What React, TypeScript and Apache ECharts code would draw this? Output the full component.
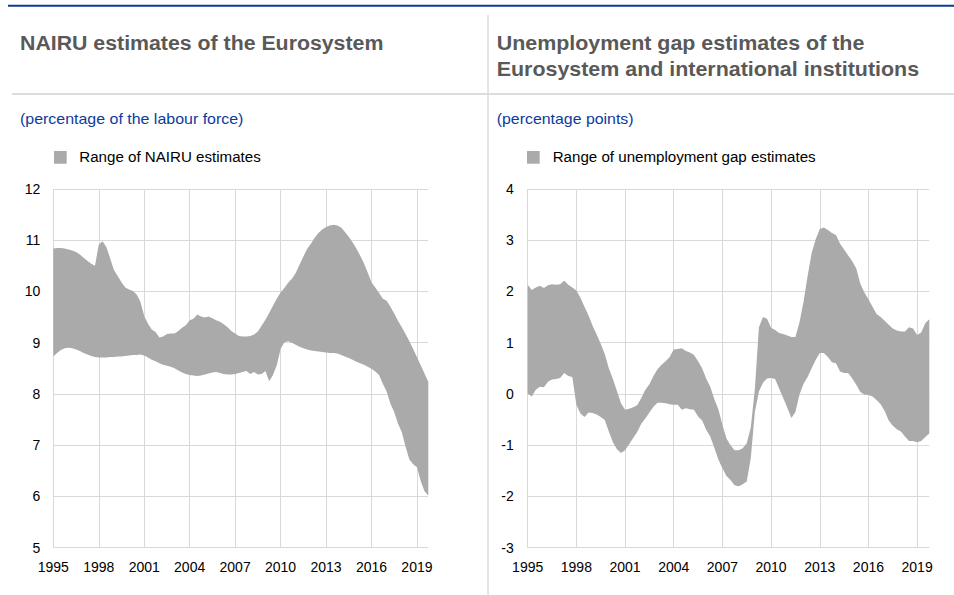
import React, { useEffect, useRef } from "react";
import * as echarts from "echarts";

const years: number[] = [];
for (let y = 1995; y <= 2019; y++) years.push(y);
const quarters: string[] = years.flatMap((y) => [`${y}Q1`, `${y}Q2`, `${y}Q3`, `${y}Q4`]);

// NAIRU range (percentage of the labour force), quarterly 1995Q1-2019Q4
const nairuHigh = [
  10.84, 10.85, 10.85, 10.84,
  10.82, 10.80, 10.77, 10.72,
  10.66, 10.60, 10.54, 10.50,
  10.91, 10.98, 10.87, 10.65,
  10.42, 10.30, 10.18, 10.08,
  10.04, 10.01, 9.94, 9.80,
  9.52, 9.37, 9.26, 9.21,
  9.10, 9.12, 9.17, 9.18,
  9.18, 9.23, 9.29, 9.34,
  9.44, 9.47, 9.55, 9.51,
  9.49, 9.51, 9.48, 9.44,
  9.41, 9.36, 9.30, 9.23,
  9.18, 9.13, 9.12, 9.12,
  9.13, 9.16, 9.22, 9.33,
  9.45, 9.58, 9.72, 9.86,
  9.98, 10.07, 10.17, 10.25,
  10.36, 10.52, 10.68, 10.83,
  10.93, 11.05, 11.14, 11.21,
  11.26, 11.29, 11.30, 11.29,
  11.25, 11.16, 11.07, 10.96,
  10.84, 10.70, 10.55, 10.37,
  10.18, 10.08, 9.97, 9.86,
  9.82, 9.70, 9.57, 9.43,
  9.30, 9.17, 9.03, 8.88,
  8.72, 8.56, 8.40, 8.24,
];
const nairuLow = [
  8.73, 8.80, 8.86, 8.89,
  8.90, 8.89, 8.87, 8.84,
  8.80, 8.77, 8.74, 8.72,
  8.71, 8.71, 8.71, 8.72,
  8.72, 8.73, 8.73, 8.74,
  8.75, 8.76, 8.76, 8.77,
  8.75, 8.71, 8.67, 8.64,
  8.60, 8.57, 8.55, 8.53,
  8.50, 8.46, 8.42, 8.39,
  8.37, 8.36, 8.35, 8.36,
  8.38, 8.40, 8.42, 8.43,
  8.41, 8.39, 8.38, 8.38,
  8.39, 8.41, 8.43, 8.45,
  8.39, 8.43, 8.38, 8.39,
  8.45, 8.25, 8.37, 8.56,
  8.88, 9.01, 9.03, 9.00,
  8.96, 8.92, 8.89, 8.87,
  8.85, 8.84, 8.83, 8.82,
  8.81, 8.80, 8.80, 8.79,
  8.76, 8.73, 8.70, 8.67,
  8.63, 8.60, 8.57, 8.53,
  8.49, 8.44, 8.37, 8.20,
  8.05, 7.81, 7.65, 7.42,
  7.26, 6.97, 6.72, 6.63,
  6.57, 6.30, 6.10, 6.02,
];

// Unemployment gap range (percentage points), quarterly 1995Q1-2019Q4
const gapHigh = [
  2.13, 2.03, 2.08, 2.11,
  2.07, 2.12, 2.14, 2.13,
  2.14, 2.21, 2.13, 2.08,
  2.02, 1.88, 1.70, 1.53,
  1.33, 1.16, 0.98, 0.78,
  0.50, 0.29, 0.06, -0.18,
  -0.31, -0.29, -0.26, -0.22,
  -0.08, 0.08, 0.19, 0.35,
  0.48, 0.57, 0.64, 0.72,
  0.87, 0.88, 0.89, 0.84,
  0.81, 0.76, 0.64, 0.50,
  0.30, 0.14, -0.10, -0.30,
  -0.60, -0.87, -1.00, -1.10,
  -1.10, -1.06, -0.96, -0.65,
  0.10, 1.30, 1.50, 1.47,
  1.29, 1.25, 1.19, 1.17,
  1.14, 1.11, 1.11, 1.40,
  1.80, 2.30, 2.75, 3.02,
  3.22, 3.25, 3.20, 3.14,
  3.10, 2.93, 2.82, 2.70,
  2.59, 2.45, 2.15, 1.98,
  1.85, 1.70, 1.56, 1.50,
  1.43, 1.35, 1.28, 1.24,
  1.22, 1.22, 1.30, 1.28,
  1.15, 1.20, 1.38, 1.46,
];
const gapLow = [
  0.01, -0.05, 0.08, 0.14,
  0.13, 0.24, 0.28, 0.29,
  0.31, 0.41, 0.35, 0.33,
  -0.21, -0.38, -0.45, -0.36,
  -0.37, -0.40, -0.45, -0.51,
  -0.73, -0.94, -1.08, -1.15,
  -1.10, -0.98, -0.86, -0.74,
  -0.58, -0.48, -0.36, -0.25,
  -0.17, -0.17, -0.18, -0.20,
  -0.21, -0.21, -0.31, -0.28,
  -0.30, -0.31, -0.44, -0.52,
  -0.70, -0.83, -1.05, -1.28,
  -1.45, -1.60, -1.68, -1.78,
  -1.80, -1.76, -1.71, -1.25,
  -0.35, 0.05, 0.22, 0.30,
  0.31, 0.29, 0.10, -0.08,
  -0.27, -0.47, -0.35, -0.01,
  0.20, 0.33, 0.50, 0.67,
  0.80, 0.80, 0.72, 0.62,
  0.60, 0.44, 0.41, 0.41,
  0.30, 0.18, 0.04, -0.01,
  -0.02, -0.05, -0.12, -0.20,
  -0.33, -0.52, -0.62, -0.69,
  -0.73, -0.83, -0.92, -0.92,
  -0.94, -0.92, -0.84, -0.77,
];

const leftTitle = "NAIRU estimates of the Eurosystem";
const rightTitle1 = "Unemployment gap estimates of the";
const rightTitle2 = "Eurosystem and international institutions";
const leftUnit = "(percentage of the labour force)";
const rightUnit = "(percentage points)";
const leftLegend = "Range of NAIRU estimates";
const rightLegend = "Range of unemployment gap estimates";

const FONT = "'Liberation Sans', Arial, Helvetica, sans-serif";
const GRID_COLOR = "#d9d9d9";
const FILL = "#aaaaaa";

export default function App() {
  const ref = useRef<HTMLDivElement>(null);
  useEffect(() => {
    document.body.style.margin = "0";
    if (!ref.current) return;
    const chart = echarts.init(ref.current, undefined, { renderer: "svg" });

    const xAxisBase = (gridIndex: number) => ({
      type: "category" as const,
      gridIndex,
      data: quarters,
      boundaryGap: false,
      axisLine: { show: false },
      axisTick: { show: false },
      axisLabel: {
        interval: 11,
        margin: 12,
        color: "#000",
        fontSize: 14,
        fontFamily: FONT,
        formatter: (v: string) => v.slice(0, 4),
      },
      splitLine: { show: true, interval: 11, lineStyle: { color: GRID_COLOR, width: 1 } },
    });
    const yAxisBase = (gridIndex: number, min: number, max: number, margin: number) => ({
      type: "value" as const,
      gridIndex,
      min,
      max,
      interval: 1,
      axisLine: { show: false },
      axisTick: { show: false },
      axisLabel: { margin, color: "#000", fontSize: 14, fontFamily: FONT },
      splitLine: { show: true, lineStyle: { color: GRID_COLOR, width: 1 } },
    });

    const rangeSeries = (idx: number, name: string, low: number[], high: number[]) => [
      {
        type: "line",
        name: name + " base",
        xAxisIndex: idx,
        yAxisIndex: idx,
        data: low,
        stack: "s" + idx,
        stackStrategy: "all",
        symbol: "none",
        lineStyle: { width: 0, opacity: 0 },
        silent: true,
      },
      {
        type: "line",
        name,
        xAxisIndex: idx,
        yAxisIndex: idx,
        data: high.map((h, i) => +(h - low[i]).toFixed(3)),
        stack: "s" + idx,
        stackStrategy: "all",
        symbol: "none",
        lineStyle: { width: 0, opacity: 0 },
        areaStyle: { color: FILL, opacity: 1 },
        silent: true,
      },
    ];

    const text = (x: number, y: number, t: string, font: string, fill: string, scaleX = 1) => ({
      type: "text",
      x,
      y,
      scaleX,
      style: { text: t, font, fill, verticalAlign: "middle", align: "left" },
    });

    chart.setOption({
      animation: false,
      grid: [
        { left: 53.3, top: 189, width: 375, height: 358.7 },
        { left: 527.7, top: 189, width: 401.6, height: 358.7 },
      ],
      xAxis: [xAxisBase(0), xAxisBase(1)],
      yAxis: [yAxisBase(0, 5, 12, 13), yAxisBase(1, -3, 4, 14)],
      series: [
        ...rangeSeries(0, leftLegend, nairuLow, nairuHigh),
        ...rangeSeries(1, rightLegend, gapLow, gapHigh),
      ],
      graphic: [
        { type: "rect", shape: { x: 8, y: 4.8, width: 946, height: 2 }, style: { fill: "#0f3a94" } },
        { type: "rect", shape: { x: 12, y: 93, width: 942, height: 2 }, style: { fill: "#dcdcdc" } },
        { type: "rect", shape: { x: 487.3, y: 15, width: 1.5, height: 580 }, style: { fill: "#dcdcdc" } },
        text(20, 43, leftTitle, `bold 21px ${FONT}`, "#595959", 1.015),
        text(496.7, 43, rightTitle1, `bold 21px ${FONT}`, "#595959", 1.02),
        text(496.7, 68.5, rightTitle2, `bold 21px ${FONT}`, "#595959", 1.02),
        text(20, 118.5, leftUnit, `14px ${FONT}`, "#0d3aa0", 1.14),
        text(496.7, 118.5, rightUnit, `14px ${FONT}`, "#0d3aa0", 1.135),
        { type: "rect", shape: { x: 54, y: 151, width: 12.7, height: 12.7 }, style: { fill: FILL } },
        text(79.3, 157.5, leftLegend, `14px ${FONT}`, "#000", 1.08),
        { type: "rect", shape: { x: 527, y: 151, width: 12.7, height: 12.7 }, style: { fill: FILL } },
        text(552.7, 157.5, rightLegend, `14px ${FONT}`, "#000", 1.08),
      ],
    });
    return () => chart.dispose();
  }, []);
  return <div ref={ref} style={{ width: 954, height: 595 }} />;
}
